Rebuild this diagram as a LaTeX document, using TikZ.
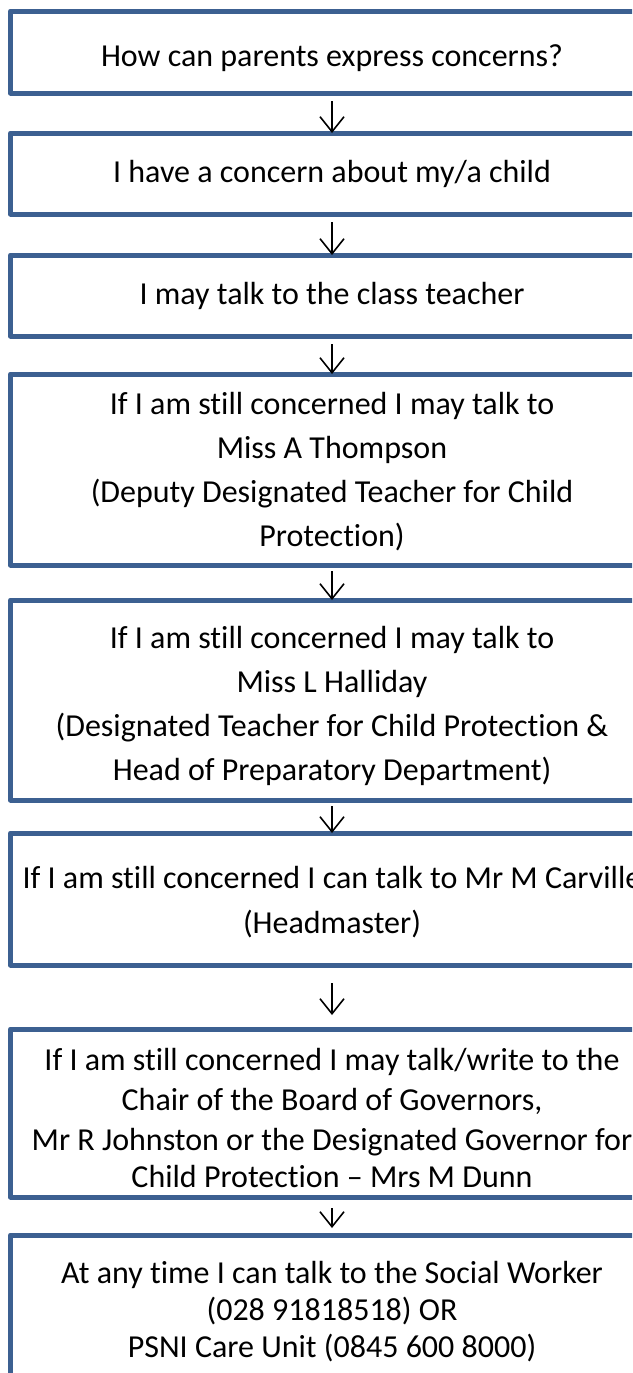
\documentclass[tikz,border=0pt]{standalone}
\usepackage{fontspec}
\setmainfont{Carlito}[Ligatures={NoCommon}]
\usetikzlibrary{arrows.meta}
\definecolor{boxblue}{HTML}{3C6091}
\tikzset{
  stepbox/.style={draw=boxblue, line width=5pt, line join=round, rectangle, outer sep=0pt, inner sep=0pt,
    minimum width=643pt, anchor=north west},
  txt/.style={anchor=base, inner sep=0pt, font=\fontsize{32}{38}\selectfont},
  flow/.style={line width=1.6pt, -{Straight Barb[length=15pt,width=24pt,line width=1.6pt]}}
}
\begin{document}
\begin{tikzpicture}[x=1pt,y=-1pt]
\useasboundingbox (0,0) rectangle (632,1373);
\clip (0,0) rectangle (632,1373);
% boxes
\node[stepbox, minimum height=82pt]  (b1) at (10.5,11) {};
\node[stepbox, minimum height=81pt]  (b2) at (10.5,133) {};
\node[stepbox, minimum height=81pt]  (b3) at (10.5,255) {};
\node[stepbox, minimum height=191pt] (b4) at (10.5,374) {};
\node[stepbox, minimum height=200pt] (b5) at (10.5,600) {};
\node[stepbox, minimum height=132pt] (b6) at (10.5,833) {};
\node[stepbox, minimum height=168pt] (b7) at (10.5,1029) {};
\node[stepbox, minimum height=185pt] (b8) at (10.5,1235) {};
% texts
\node[txt] (t1) at (332,66) {How can parents express concerns?};
\node[txt] (t2) at (332,182) {I have a concern about my/a child};
\node[txt] (t3) at (332,304) {I may talk to the class teacher};
\node[txt] (t4a) at (332,414) {If I am still concerned I may talk to};
\node[txt] (t4b) at (332,458) {Miss A Thompson};
\node[txt] (t4c) at (332,502) {(Deputy Designated Teacher for Child};
\node[txt] (t4d) at (332,546) {Protection)};
\node[txt] (t5a) at (332,648) {If I am still concerned I may talk to};
\node[txt] (t5b) at (332,692) {Miss L Halliday};
\node[txt] (t5c) at (332,736) {(Designated Teacher for Child Protection \&};
\node[txt] (t5d) at (332,780) {Head of Preparatory Department)};
\node[txt] (t6a) at (332,888) {If I am still concerned I can talk to Mr M Carville};
\node[txt] (t6b) at (332,933) {(Headmaster)};
\node[txt] (t7a) at (332,1070) {If I am still concerned I may talk/write to the};
\node[txt] (t7b) at (332,1110) {Chair of the Board of Governors,};
\node[txt] (t7c) at (332,1150) {Mr R Johnston or the Designated Governor for};
\node[txt] (t7d) at (332,1187) {Child Protection -- Mrs M Dunn};
\node[txt] (t8a) at (332,1283) {At any time I can talk to the Social Worker};
\node[txt] (t8b) at (332,1320) {(028 91818518) OR};
\node[txt] (t8c) at (332,1357) {PSNI Care Unit (0845 600 8000)};
% connectors
\draw[flow] ([yshift=-8pt]b1.south) -- (b2.north);
\draw[flow] ([yshift=-8pt]b2.south) -- (b3.north);
\draw[flow] ([yshift=-8pt]b3.south) -- (b4.north);
\draw[flow] ([yshift=-6pt]b4.south) -- (b5.north);
\draw[flow] ([yshift=-6pt]b5.south) -- (b6.north);
\draw[flow] ([yshift=-18pt]b6.south) -- ([yshift=14pt]b7.north);
\draw[flow] ([yshift=-11pt]b7.south) -- ([yshift=7pt]b8.north);
\end{tikzpicture}
\end{document}
